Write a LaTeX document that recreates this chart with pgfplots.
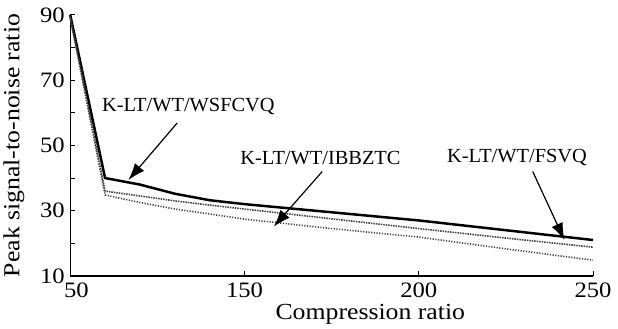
\documentclass[border=0pt]{standalone}
\usepackage{fontspec}
\setmainfont{Liberation Serif}
\newfontfamily\widefont[FakeStretch=1.12]{Liberation Serif}
\newfontfamily\annfont[FakeStretch=1.02]{Liberation Serif}
\usepackage{pgfplots}
\pgfplotsset{compat=1.18}
\usetikzlibrary{arrows.meta}
\begin{document}
\begin{tikzpicture}
\begin{axis}[
  scale only axis,
  width=523bp, height=261bp,
  xmin=100, xmax=250, ymin=10, ymax=90,
  axis lines=left,
  axis line style={-, line width=1.3pt},
  xtick={100,150,200,250},
  xticklabels={\hphantom{5}50,150,200,250},
  ytick={10,30,50,70,90},
  minor ytick={20,40,60,80},
  tick align=inside,
  major tick length=5bp, minor tick length=5bp,
  tick style={line width=1pt, black},
  /pgf/number format/assume math mode=true,
  ticklabel style={font=\widefont\fontsize{22bp}{24bp}\selectfont},
  xticklabel style={yshift=-3bp},
  yticklabel style={xshift=-2bp},
  xlabel={Compression ratio},
  ylabel={Peak signal-to-noise ratio},
  label style={font=\widefont\fontsize{23bp}{25bp}\selectfont},
  xlabel style={at={(axis description cs:0.574,-0.1686)}, anchor=base},
  ylabel style={at={(axis description cs:-0.108,0.5)}, anchor=center},
  clip=false,
]
\addplot[black, line width=2.5pt] coordinates {
 (100,90) (110,40) (120,38) (130,35.2) (140,33.2) (150,32) (175,29.5) (200,27) (225,24) (250,21)};
\addplot[black!75, line width=1.6pt, dash pattern=on 1.5pt off 1pt] coordinates {
 (100,89.5) (110,36) (120,34.5) (130,33) (140,31.7) (150,30.5) (175,27.5) (200,24.5) (225,21.6) (250,18.8)};
\addplot[black!75, line width=1.6pt, dash pattern=on 1.2pt off 1.5pt] coordinates {
 (100,89) (110,34.8) (120,32.5) (130,30.5) (140,29) (150,27.4) (175,24.5) (200,21.9) (225,18.3) (250,14.8)};
\node[font=\annfont\fontsize{20bp}{22bp}\selectfont] at (axis cs:133.9,61.8) {K-LT/WT/WSFCVQ};
\draw[-{Latex[length=17bp,width=12bp]}, line width=1.2pt] (axis cs:130.7,56.9) -- (axis cs:116.7,39.4);
\node[font=\annfont\fontsize{20bp}{22bp}\selectfont] at (axis cs:171.8,46.2) {K-LT/WT/IBBZTC};
\draw[-{Latex[length=17bp,width=12bp]}, line width=1.2pt] (axis cs:172.3,42.0) -- (axis cs:158.4,25.1);
\node[font=\annfont\fontsize{20bp}{22bp}\selectfont] at (axis cs:228.2,46.2) {K-LT/WT/FSVQ};
\draw[-{Latex[length=17bp,width=12bp]}, line width=1.2pt] (axis cs:232.7,42.0) -- (axis cs:241.8,21.0);
\end{axis}
\useasboundingbox (-70bp,-48bp) rectangle (548bp,276bp);
\end{tikzpicture}
\end{document}
